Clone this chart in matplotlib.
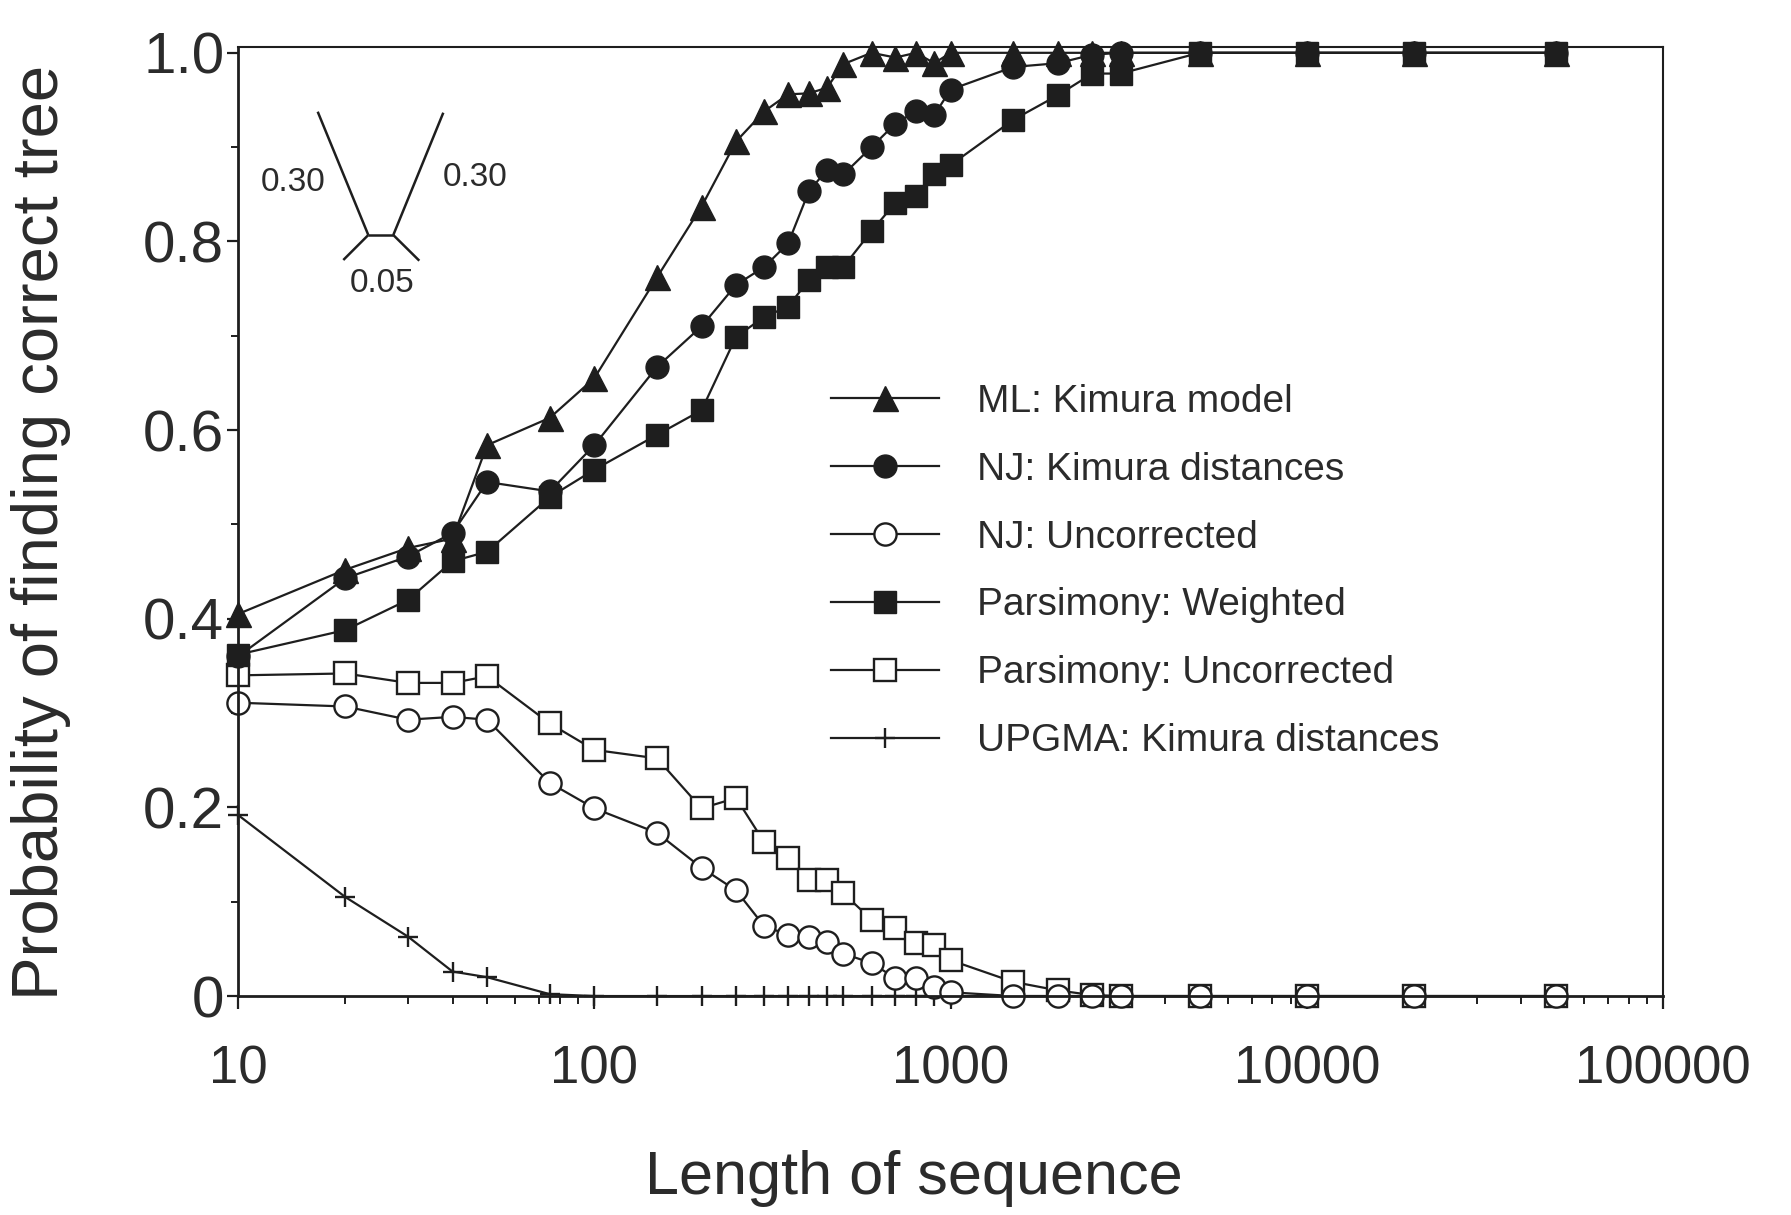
import matplotlib
matplotlib.use("Agg")
import matplotlib.pyplot as plt

plt.rcParams['font.family'] = ['Liberation Sans', 'DejaVu Sans']

# sequence lengths
lengths = [10, 20, 30, 40, 50, 75, 100, 150, 200, 250, 300, 350, 400, 450, 500,
           600, 700, 800, 900, 1000, 1500, 2000, 2500, 3000, 5000, 10000, 20000, 50000]

ml_kimura = [0.405, 0.452, 0.475, 0.485, 0.584, 0.613, 0.655, 0.762, 0.837, 0.906,
             0.938, 0.956, 0.957, 0.963, 0.988, 1.0, 0.995, 1.0, 0.989, 1.0,
             1.0, 1.0, 1.0, 1.0, 1.0, 1.0, 1.0, 1.0]
nj_kimura = [0.360, 0.443, 0.466, 0.491, 0.545, 0.535, 0.584, 0.667, 0.710, 0.754,
             0.773, 0.798, 0.853, 0.876, 0.871, 0.900, 0.925, 0.938, 0.934, 0.961,
             0.985, 0.989, 0.998, 1.0, 1.0, 1.0, 1.0, 1.0]
nj_uncorr = [0.311, 0.307, 0.293, 0.296, 0.293, 0.226, 0.199, 0.173, 0.136, 0.112,
             0.074, 0.065, 0.063, 0.057, 0.045, 0.035, 0.019, 0.019, 0.010, 0.004,
             0.0, 0.0, 0.0, 0.0, 0.0, 0.0, 0.0, 0.0]
pars_weighted = [0.362, 0.388, 0.420, 0.461, 0.471, 0.529, 0.558, 0.595, 0.621, 0.699,
                 0.720, 0.731, 0.759, 0.773, 0.773, 0.811, 0.841, 0.848, 0.871, 0.881,
                 0.929, 0.955, 0.978, 0.978, 1.0, 1.0, 1.0, 1.0]
pars_uncorr = [0.340, 0.342, 0.332, 0.332, 0.339, 0.289, 0.261, 0.252, 0.199, 0.210,
               0.163, 0.146, 0.123, 0.123, 0.109, 0.081, 0.072, 0.056, 0.054, 0.038,
               0.015, 0.006, 0.001, 0.0, 0.0, 0.0, 0.0, 0.0]
upgma_kimura = [0.192, 0.105, 0.063, 0.026, 0.020, 0.002, 0.0, 0.0, 0.0, 0.0,
                0.0, 0.0, 0.0, 0.0, 0.0, 0.0, 0.0, 0.0, 0.0, 0.0,
                0.0, 0.0, 0.0, 0.0, 0.0, 0.0, 0.0, 0.0]

labels = ["ML: Kimura model", "NJ: Kimura distances", "NJ: Uncorrected",
          "Parsimony: Weighted", "Parsimony: Uncorrected", "UPGMA: Kimura distances"]

INK = '#1e1e1e'
TXT = '#2b2b2b'

fig = plt.figure(figsize=(17.91, 12.15), dpi=100)
ax = fig.add_axes([0.1329, 0.1802, 0.7957, 0.7813])

common = dict(color=INK, lw=1.6, clip_on=False)
h_up, = ax.plot(lengths, upgma_kimura, marker='+', ms=15, mew=1.7, label=labels[5], **common)
h_pu, = ax.plot(lengths, pars_uncorr, marker='s', ms=16, mfc='white', mec=INK, mew=1.7,
                label=labels[4], **common)
h_nu, = ax.plot(lengths, nj_uncorr, marker='o', ms=16, mfc='white', mec=INK, mew=1.7,
                label=labels[2], **common)
h_pw, = ax.plot(lengths, pars_weighted, marker='s', ms=16.5, mfc=INK, mec=INK,
                label=labels[3], **common)
h_nk, = ax.plot(lengths, nj_kimura, marker='o', ms=16.5, mfc=INK, mec=INK,
                label=labels[1], **common)
h_ml, = ax.plot(lengths, ml_kimura, marker='^', ms=18, mfc=INK, mec=INK,
                label=labels[0], **common)

ax.set_xscale('log')
ax.set_xlim(10, 100000)
ax.set_ylim(0, 1.0064)
ax.set_xticks([10, 100, 1000, 10000, 100000])
ax.set_xticklabels(['10', '100', '1000', '10000', '100000'])
ax.set_yticks([0, 0.2, 0.4, 0.6, 0.8, 1.0])
ax.set_yticklabels(['0', '0.2', '0.4', '0.6', '0.8', '1.0'])
ax.set_yticks([0.1, 0.3, 0.5, 0.7, 0.9], minor=True)

ax.tick_params(axis='x', which='major', direction='out', length=9, width=1.6,
               labelsize=38, pad=26, colors=INK, labelcolor=TXT)
ax.tick_params(axis='x', which='minor', direction='out', length=6, width=1.4, colors=INK)
ax.tick_params(axis='y', which='major', direction='out', length=8, width=1.6,
               labelsize=42, pad=2, colors=INK, labelcolor=TXT)
ax.tick_params(axis='y', which='minor', direction='out', length=5, width=1.4, colors=INK)

for side in ['left', 'bottom']:
    ax.spines[side].set_linewidth(2.0)
for side in ['top', 'right']:
    ax.spines[side].set_linewidth(1.5)
for sp in ax.spines.values():
    sp.set_color(INK)

ax.set_xlabel("Length of sequence", fontsize=44, color=TXT)
ax.xaxis.set_label_coords(0.474, -0.192)
ax.xaxis.label.set_verticalalignment('center')
ax.set_ylabel("Probability of finding correct tree", fontsize=47, color=TXT)
ax.yaxis.set_label_coords(-0.138, 0.488)
ax.yaxis.label.set_verticalalignment('center')

leg = ax.legend(handles=[h_ml, h_nk, h_nu, h_pw, h_pu, h_up], loc='upper left',
                bbox_to_anchor=(0.416, 0.645), frameon=False, fontsize=28,
                handlelength=2.77, handletextpad=1.0, labelspacing=0.82,
                numpoints=1, borderpad=0, borderaxespad=0)
for t in leg.get_texts():
    t.set_color(TXT)

# inset tree diagram (drawn in figure pixel units)
tree = fig.add_axes([250 / 1791, 1 - 310 / 1215, 270 / 1791, 220 / 1215])
tree.set_xlim(250, 520)
tree.set_ylim(310, 90)
tree.axis('off')
branches = [((317.7, 368.3), (111.7, 235)), ((443.3, 393.3), (112.7, 235)),
            ((368.3, 393.3), (235, 235)), ((368.3, 343.3), (235, 260)),
            ((393.3, 419.3), (235, 260.7))]
for bx, by in branches:
    tree.plot(bx, by, color=INK, lw=1.8, solid_capstyle='butt')
tree.text(293, 183, "0.30", fontsize=24, ha='center', va='center', color=TXT)
tree.text(475, 178, "0.30", fontsize=24, ha='center', va='center', color=TXT)
tree.text(382, 284, "0.05", fontsize=24, ha='center', va='center', color=TXT)

fig.savefig("out.png", dpi=100, facecolor='white')
